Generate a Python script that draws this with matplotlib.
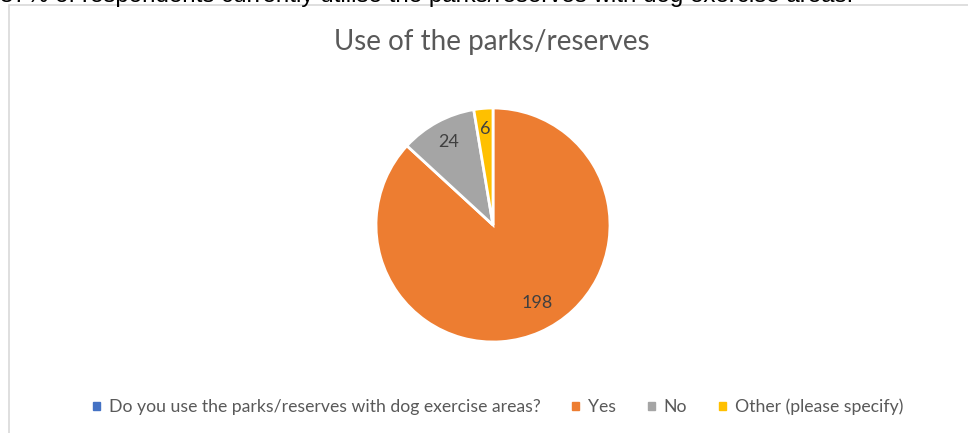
import matplotlib.pyplot as plt
from matplotlib.patches import Rectangle

# survey answers
labels = ["Do you use the parks/reserves with dog exercise areas?", "Yes", "No", "Other (please specify)"]
counts = [0, 198, 24, 6]
colors = ["#4472C4", "#ED7D31", "#A5A5A5", "#FFC000"]

W, H = 968, 433
fig = plt.figure(figsize=(W / 100, H / 100), dpi=100)

# heading line of the report, cut off by the top edge
fig.text(0.0, 1 + 4 / H, "87% of respondents currently utilise the parks/reserves with dog exercise areas.",
         family="Liberation Sans", fontsize=17.4, color="black", ha="left", va="center")

# chart frame
fig.patches.append(Rectangle((9 / W, -0.1), 1.2, (H - 5) / H + 0.1, transform=fig.transFigure,
                             facecolor="none", edgecolor="#D9D9D9", linewidth=1.2, zorder=-1))

fig.text(492 / W, 1 - 42 / H, "Use of the parks/reserves", family="Lato", fontsize=20,
         color="#595959", ha="center", va="center")

cx, cy, r = 493, 225, 117
ax = fig.add_axes([(cx - r) / W, (H - cy - r) / H, 2 * r / W, 2 * r / H])
wedges, _ = ax.pie(counts, colors=colors, startangle=90, counterclock=False,
                   wedgeprops=dict(edgecolor="white", linewidth=2))
ax.set_xlim(-1, 1)
ax.set_ylim(-1, 1)
ax.set_aspect("auto")

# value labels
pos = {1: (0.38, -0.67), 2: (-0.38, 0.71), 3: (-0.07, 0.82)}
for i, (x, y) in pos.items():
    ax.text(x, y, str(counts[i]), ha="center", va="center", fontsize=13,
            family="Lato", color="#404040")

# legend
handles = [Rectangle((0, 0), 1, 1, color=c) for c in colors]
fig.legend(handles, labels, loc="center", bbox_to_anchor=(498 / W, 1 - 407 / H), ncol=4,
           frameon=False, handlelength=0.4, handleheight=0.4, handletextpad=0.5,
           columnspacing=1.8, prop=dict(family="Lato", size=12.7), labelcolor="#595959")

fig.savefig("out.png", dpi=100)
